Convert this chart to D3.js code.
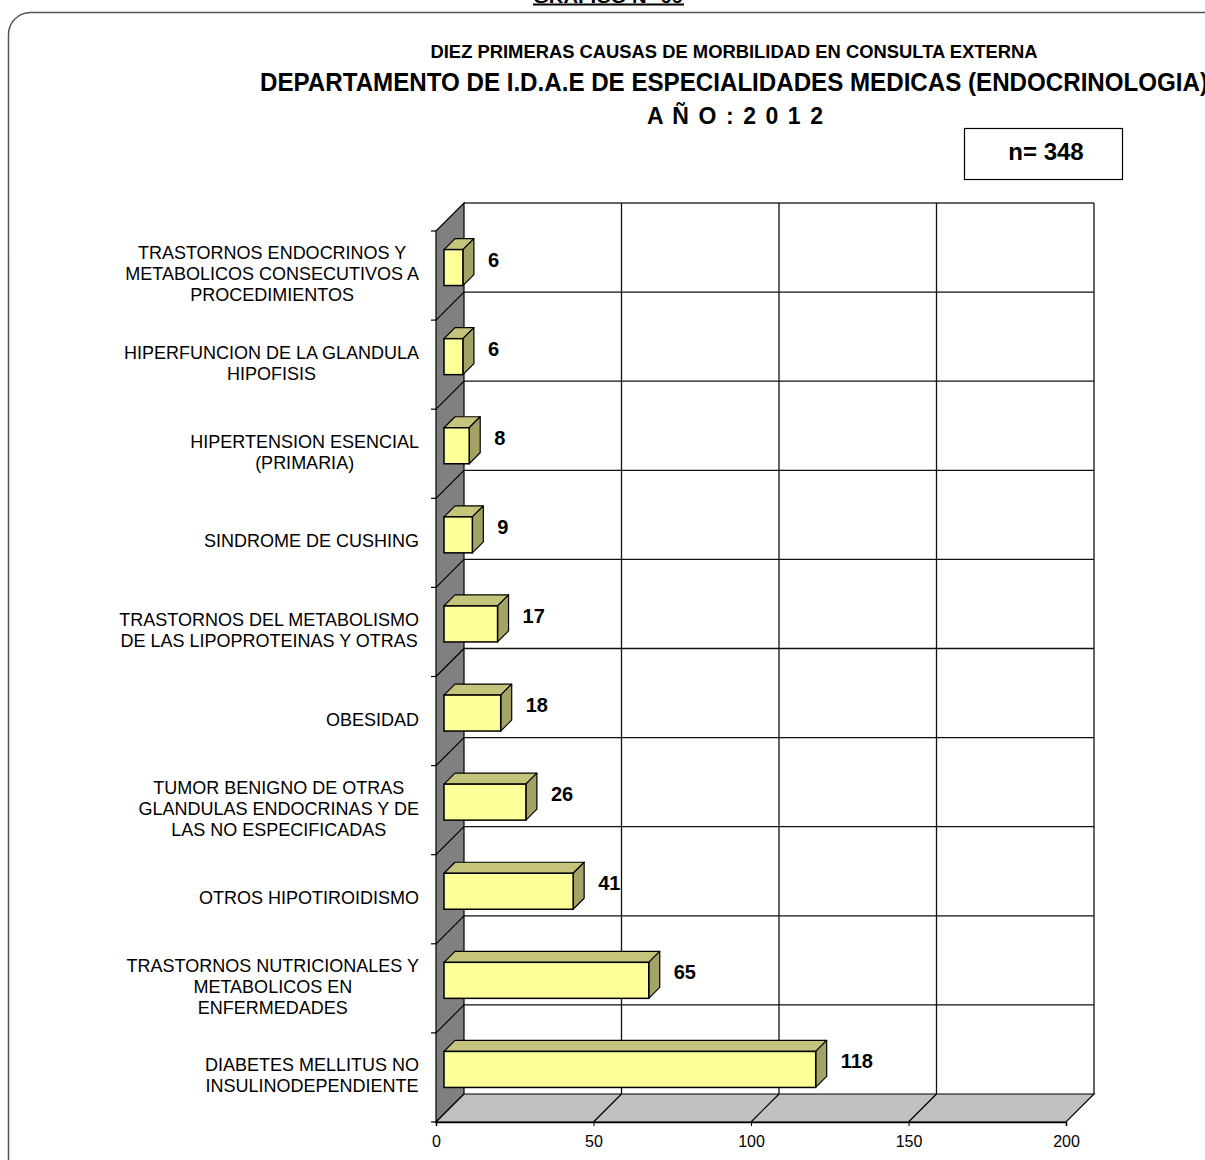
<!DOCTYPE html>
<html><head><meta charset="utf-8">
<script src="https://cdn.jsdelivr.net/npm/d3@7"></script>
<style>html,body{margin:0;padding:0;background:#fff;}svg{display:block;}</style>
</head><body>
<svg id="chart" width="1205" height="1160"></svg>
<script>
const categories = [
  "TRASTORNOS ENDOCRINOS Y\nMETABOLICOS CONSECUTIVOS A\nPROCEDIMIENTOS",
  "HIPERFUNCION DE LA GLANDULA\nHIPOFISIS",
  "HIPERTENSION ESENCIAL\n(PRIMARIA)",
  "SINDROME DE CUSHING",
  "TRASTORNOS DEL METABOLISMO\nDE LAS LIPOPROTEINAS Y OTRAS",
  "OBESIDAD",
  "TUMOR BENIGNO DE OTRAS\nGLANDULAS ENDOCRINAS Y DE\nLAS NO ESPECIFICADAS",
  "OTROS HIPOTIROIDISMO",
  "TRASTORNOS NUTRICIONALES Y\nMETABOLICOS EN\nENFERMEDADES",
  "DIABETES MELLITUS NO\nINSULINODEPENDIENTE"
];
const values = [6, 6, 8, 9, 17, 18, 26, 41, 65, 118];
const tickValues = [0, 50, 100, 150, 200];
const headerText = "GRAFICO N° 09";
const title1 = "DIEZ PRIMERAS CAUSAS DE MORBILIDAD EN CONSULTA EXTERNA";
const title2 = "DEPARTAMENTO DE I.D.A.E DE ESPECIALIDADES MEDICAS (ENDOCRINOLOGIA)";
const title3 = "AÑO: 2012";
const nText = "n= 348";

const svg = d3.select("#chart");
const FONT = "'Liberation Sans', Arial, sans-serif";
const NARROW = "'Liberation Sans Narrow', 'Arial Narrow', 'Liberation Sans', Arial, sans-serif";

// geometry
const x = d3.scaleLinear().domain([0, 200]).range([436, 1066]);
const y = d3.scaleBand().domain(categories).range([231, 1122]).paddingInner(0).paddingOuter(0);
const D = 28;       // chart depth offset
const BD = 8;       // bar front offset into depth
const BDEP = 11;    // bar depth
const BH = 36;      // bar thickness
const floorY = y.range()[1], topY = y.range()[0];

// outer rounded frame
svg.append("rect").attr("x", 8.5).attr("y", 12.5).attr("width", 1240).attr("height", 1200)
  .attr("rx", 22).attr("ry", 22).attr("fill", "none").attr("stroke", "#555").attr("stroke-width", 1.5);

// header (cut at top, as in the reference)
svg.append("text").attr("x", 608).attr("y", 3).attr("text-anchor", "middle")
  .attr("font-family", FONT).attr("font-weight", "bold").attr("font-size", 17)
  .attr("textLength", 150).attr("lengthAdjust", "spacingAndGlyphs").text(headerText);
svg.append("line").attr("x1", 533).attr("x2", 684).attr("y1", 4.5).attr("y2", 4.5)
  .attr("stroke", "#000").attr("stroke-width", 2);

// titles
svg.append("text").attr("x", 734).attr("y", 58).attr("text-anchor", "middle")
  .attr("font-family", NARROW).attr("font-weight", "bold").attr("font-size", 19)
  .attr("textLength", 607).attr("lengthAdjust", "spacingAndGlyphs").text(title1);
svg.append("text").attr("x", 260).attr("y", 91)
  .attr("font-family", NARROW).attr("font-weight", "bold").attr("font-size", 25)
  .attr("textLength", 948).attr("lengthAdjust", "spacingAndGlyphs").text(title2);
svg.append("text").attr("x", 735).attr("y", 124).attr("text-anchor", "middle")
  .attr("font-family", FONT).attr("font-weight", "bold").attr("font-size", 23)
  .attr("textLength", 176).attr("lengthAdjust", "spacing").text(title3.split("").filter(c => c !== " ").join(" "));

// n box
svg.append("rect").attr("x", 964.5).attr("y", 128.5).attr("width", 158).attr("height", 51)
  .attr("fill", "#fff").attr("stroke", "#000").attr("stroke-width", 1.2);
svg.append("text").attr("x", 1046).attr("y", 160).attr("text-anchor", "middle")
  .attr("font-family", FONT).attr("font-weight", "bold").attr("font-size", 24).text(nText);

const g = svg.append("g");

// back wall
g.append("rect").attr("x", x(0) + D).attr("y", topY - D).attr("width", x(200) - x(0)).attr("height", floorY - topY)
  .attr("fill", "#fff").attr("stroke", "none");

// back wall horizontal gridlines at band boundaries
const bounds = categories.map(c => y(c)).concat([floorY]);
g.selectAll("line.hg").data(bounds.slice(1, -1)).join("line").attr("class", "hg")
  .attr("x1", x(0) + D).attr("x2", x(200) + D).attr("y1", d => d - D).attr("y2", d => d - D)
  .attr("stroke", "#111").attr("stroke-width", 1.3);
// top line
g.append("line").attr("x1", x(0) + D).attr("x2", x(200) + D).attr("y1", topY - D).attr("y2", topY - D)
  .attr("stroke", "#666").attr("stroke-width", 2);
// vertical gridlines on back wall
g.selectAll("line.vg").data(tickValues.slice(1)).join("line").attr("class", "vg")
  .attr("x1", d => x(d) + D).attr("x2", d => x(d) + D).attr("y1", topY - D).attr("y2", floorY - D)
  .attr("stroke", "#111").attr("stroke-width", 1.3);

// left wall
g.append("polygon")
  .attr("points", [[x(0), topY], [x(0) + D, topY - D], [x(0) + D, floorY - D], [x(0), floorY]].join(" "))
  .attr("fill", "#808080").attr("stroke", "#000").attr("stroke-width", 1.2);
g.selectAll("line.lw").data(bounds.slice(1, -1)).join("line").attr("class", "lw")
  .attr("x1", x(0)).attr("y1", d => d).attr("x2", x(0) + D).attr("y2", d => d - D)
  .attr("stroke", "#000").attr("stroke-width", 1.2);

// floor
g.append("polygon")
  .attr("points", [[x(0), floorY], [x(200), floorY], [x(200) + D, floorY - D], [x(0) + D, floorY - D]].join(" "))
  .attr("fill", "#C0C0C0").attr("stroke", "#000").attr("stroke-width", 1.2);
g.selectAll("line.fd").data(tickValues.slice(1, -1)).join("line").attr("class", "fd")
  .attr("x1", d => x(d)).attr("y1", floorY).attr("x2", d => x(d) + D).attr("y2", floorY - D)
  .attr("stroke", "#000").attr("stroke-width", 1.2);

// bottom axis
const xAxis = d3.axisBottom(x).tickValues(tickValues).tickSize(4).tickPadding(10).tickFormat(d3.format("d"));
const ax = g.append("g").attr("transform", `translate(0,${floorY})`).call(xAxis);
ax.select(".domain").attr("stroke", "#000").attr("stroke-width", 1.5);
ax.selectAll(".tick line").attr("stroke", "#000");
ax.selectAll("text").attr("font-family", FONT).attr("font-size", 16).attr("fill", "#000");

// left ticks at band boundaries
g.selectAll("line.lt").data(bounds).join("line").attr("class", "lt")
  .attr("x1", x(0) - 5).attr("x2", x(0)).attr("y1", d => d).attr("y2", d => d)
  .attr("stroke", "#000").attr("stroke-width", 1.2);

// bars
const bars = g.selectAll("g.bar").data(categories.map((c, i) => ({c, v: values[i]}))).join("g").attr("class", "bar");
bars.each(function(d) {
  const gg = d3.select(this);
  const yc = y(d.c) + y.bandwidth() / 2 - BD;
  const x0 = x(0) + BD, x1 = x(d.v) + BD;
  const yt = yc - BH / 2, yb = yc + BH / 2;
  gg.append("polygon").attr("points", [[x0, yt], [x1, yt], [x1 + BDEP, yt - BDEP], [x0 + BDEP, yt - BDEP]].join(" "))
    .attr("fill", "#C4C47A").attr("stroke", "#000").attr("stroke-width", 1.2).attr("stroke-linejoin", "round");
  gg.append("polygon").attr("points", [[x1, yt], [x1 + BDEP, yt - BDEP], [x1 + BDEP, yb - BDEP], [x1, yb]].join(" "))
    .attr("fill", "#A3A365").attr("stroke", "#000").attr("stroke-width", 1.2).attr("stroke-linejoin", "round");
  gg.append("rect").attr("x", x0).attr("y", yt).attr("width", x1 - x0).attr("height", BH)
    .attr("fill", "#FFFF99").attr("stroke", "#000").attr("stroke-width", 1.5);
  gg.append("text").attr("x", x1 + BDEP + 14).attr("y", yc - 1)
    .attr("font-family", FONT).attr("font-weight", "bold").attr("font-size", 20).attr("fill", "#000")
    .text(d.v);
});

// category labels
const LH = 21;
categories.forEach(c => {
  const lines = c.split("\n");
  const cy = y(c) + y.bandwidth() / 2 - 2;
  const t = g.append("text").attr("font-family", FONT).attr("font-size", 18).attr("fill", "#000")
    .attr("text-anchor", "middle");
  const spans = lines.map((ln, i) => t.append("tspan")
    .attr("y", cy + (i - (lines.length - 1) / 2) * LH + 6.5).text(ln));
  let maxW = 0;
  spans.forEach(s => { maxW = Math.max(maxW, s.node().getComputedTextLength()); });
  spans.forEach(s => s.attr("x", 419 - maxW / 2));
});
</script>
</body></html>
